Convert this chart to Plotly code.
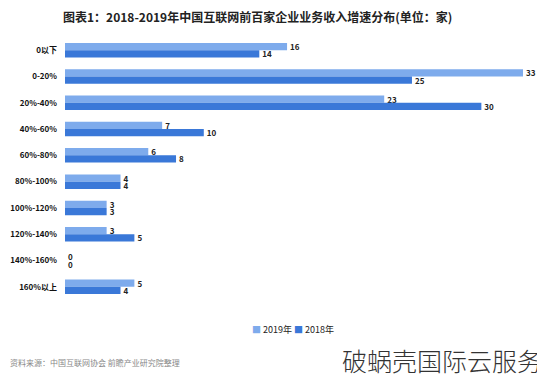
import plotly.graph_objects as go

categories = ["0以下", "0-20%", "20%-40%", "40%-60%", "60%-80%", "80%-100%",
              "100%-120%", "120%-140%", "140%-160%", "160%以上"]
values_2019 = [16, 33, 23, 7, 6, 4, 3, 3, 0, 5]
values_2018 = [14, 25, 30, 10, 8, 4, 3, 5, 0, 4]
series_names = ["2019年", "2018年"]
colors = ["#7EABEC", "#3A78D8"]

# page body has an 8px default margin, so the figure is drawn 8px in
OFF = 8
W, H = 545 - OFF, 380 - OFF
ml, mr, mt, mb = 65 - OFF, W - (523 - OFF), 37 - OFF, H - (300 - OFF)
pw = W - ml - mr
ph = H - mt - mb

def px_x(x):
    return (x - OFF - ml) / pw

def px_y(y):
    return 1 - (y - OFF - mt) / ph

lab_font = dict(size=8, color="#222", family="Noto Sans CJK SC", weight="bold")

fig = go.Figure()
for name, vals, col in zip(series_names, [values_2019, values_2018], colors):
    fig.add_trace(go.Bar(
        name=name, y=categories, x=vals, orientation="h",
        marker=dict(color=col, line=dict(width=0)),
        text=vals, textposition="outside", cliponaxis=False,
        constraintext="none", textfont=lab_font,
    ))

fig.update_layout(
    width=W, height=H,
    margin=dict(l=ml, r=mr, t=mt, b=mb, autoexpand=False),
    paper_bgcolor="white", plot_bgcolor="white",
    barmode="group", bargap=0.45, bargroupgap=0,
    font=dict(family="Noto Sans CJK SC", size=9, color="#222"),
    showlegend=False,
    xaxis=dict(range=[0, 33], visible=False, showgrid=False, zeroline=False),
    yaxis=dict(autorange="reversed", showgrid=False, zeroline=False,
               showline=False, ticks="", ticklabelstandoff=7, automargin=False,
               tickfont=dict(size=8, color="#111", family="Noto Sans CJK SC", weight="bold")),
)

# legend drawn as text entries
leg_x = [250, 292]
for name, col, lx in zip(series_names, colors, leg_x):
    fig.add_annotation(
        text=f"<span style='color:{col}'>■</span> {name}",
        xref="paper", yref="paper", x=px_x(lx), xanchor="left",
        y=px_y(329), yanchor="middle", showarrow=False,
        font=dict(size=9, color="#222", family="Noto Sans CJK SC"),
    )

fig.add_annotation(
    text="<b>图表1：2018-2019年中国互联网前百家企业业务收入增速分布(单位：家)</b>",
    xref="paper", yref="paper", x=px_x(62), xanchor="left",
    y=px_y(16), yanchor="middle", showarrow=False, borderpad=0,
    font=dict(size=12, color="#222", family="Noto Sans CJK SC"),
)
fig.add_annotation(
    text="资料来源：中国互联网协会 前瞻产业研究院整理",
    xref="paper", yref="paper", x=px_x(OFF), xanchor="left",
    y=px_y(362), yanchor="middle", showarrow=False,
    font=dict(size=8, color="#888", family="Noto Sans CJK SC"),
)
fig.add_annotation(
    text="破蜗壳国际云服务",
    xref="paper", yref="paper", x=px_x(544), xanchor="right",
    y=px_y(360), yanchor="middle", showarrow=False,
    font=dict(size=25, color="#333", family="Noto Sans CJK SC", weight=300),
)

fig.write_html("out.html")
